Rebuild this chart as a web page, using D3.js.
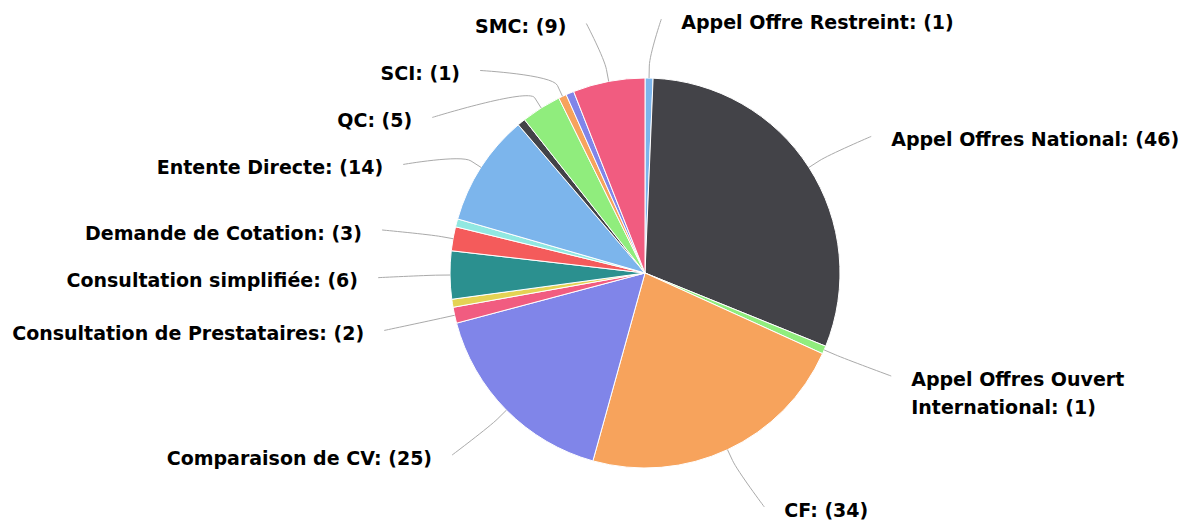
<!DOCTYPE html>
<html>
<head>
<meta charset="utf-8">
<script src="https://cdn.jsdelivr.net/npm/d3@7"></script>
<style>
  body { margin: 0; background: #fff; }
  .lbl { font-family: "DejaVu Sans", sans-serif; font-weight: bold; font-size: 19px; fill: #000; }
</style>
</head>
<body>
<div id="chart"></div>
<script>
// slices, clockwise from 12 o'clock
var names = [
  "Appel Offre Restreint", "Appel Offres National", "Appel Offres Ouvert International",
  "CF", "Comparaison de CV", "Consultation de Prestataires", "Consultation restreinte",
  "Consultation simplifiée", "Demande de Cotation", "Demande de Propositions",
  "Entente Directe", "Gré à Gré", "QC", "SCI", "SFQC", "SMC"
];
var values = [1, 46, 1, 34, 25, 2, 1, 6, 3, 1, 14, 1, 5, 1, 1, 9];
// labels dropped by the overlap check in the original
var hiddenLabels = ["Consultation restreinte", "Demande de Propositions", "Gré à Gré", "SFQC"];
var colors = ["#7cb5ec", "#434348", "#90ed7d", "#f7a35c", "#8085e9",
              "#f15c80", "#e4d354", "#2b908f", "#f45b5b", "#91e8e1"];

var width = 1200, height = 525;
var cx = 645, cy = 273, radius = 195;
var labelDistance = 61, labelShift = 5, padding = 31;
var slot = 47, topLimit = 22, bottomLimit = 510;

var svg = d3.select("#chart").append("svg")
  .attr("width", width)
  .attr("height", height);

var data = names.map(function (n, i) { return { name: n, value: values[i], index: i }; });

var pie = d3.pie().sort(null).value(function (d) { return d.value; });
var arc = d3.arc().innerRadius(0).outerRadius(radius);
var color = d3.scaleOrdinal().domain(d3.range(names.length)).range(colors);

var arcs = pie(data);

var g = svg.append("g").attr("transform", "translate(" + cx + "," + cy + ")");
g.selectAll("path")
  .data(arcs)
  .enter()
  .append("path")
  .attr("d", arc)
  .attr("fill", function (d) { return color(d.data.index); })
  .attr("stroke", "#ffffff")
  .attr("stroke-width", 1)
  .attr("stroke-linejoin", "round");

// label positions, Highcharts-like
var R = radius + labelDistance;
var cyL = cy + labelShift;
var labels = arcs.filter(function (d) { return hiddenLabels.indexOf(d.data.name) < 0; })
  .map(function (d) {
    var mid = (d.startAngle + d.endAngle) / 2;
    return {
      d: d,
      mid: mid,
      left: mid > Math.PI,
      natural: cyL - R * Math.cos(mid)
    };
  });

function getX(y, left) {
  var a = Math.asin(Math.max(-1, Math.min(1, (y - cyL) / R)));
  return cx + (left ? -1 : 1) * (Math.cos(a) * R + padding);
}

[true, false].forEach(function (side) {
  var items = labels.filter(function (l) { return l.left === side; })
    .sort(function (a, b) { return a.natural - b.natural; });
  var prev = -Infinity;
  items.forEach(function (l) {
    l.y = Math.max(l.natural, prev + slot, topLimit);
    prev = l.y;
  });
  var next = Infinity;
  for (var i = items.length - 1; i >= 0; i--) {
    items[i].y = Math.min(items[i].y, next - slot, bottomLimit);
    next = items[i].y;
  }
  items.forEach(function (l) {
    var yx = (l.y <= topLimit + 0.5 || l.y >= bottomLimit - 0.5) ? l.natural : l.y;
    l.x = getX(yx, l.left);
  });
});

// connectors
var conn = svg.append("g");
labels.forEach(function (l) {
  var s = Math.sin(l.mid), c = Math.cos(l.mid);
  var tx = cx + radius * s, ty = cy - radius * c;
  var bx = cx + (radius + 12) * s, by = cy - (radius + 12) * c;
  var ex = l.x + (l.left ? 20 : -20), ey = l.y - 3;
  var p = d3.path();
  p.moveTo(ex, ey);
  p.bezierCurveTo(ex, ey, 2 * bx - tx, 2 * by - ty, bx, by);
  p.lineTo(tx, ty);
  conn.append("path")
    .attr("d", p.toString())
    .attr("fill", "none")
    .attr("stroke", "#aaaaaa")
    .attr("stroke-width", 1);
});

// label text
var lineHeight = 28;
labels.forEach(function (l) {
  var str = l.d.data.name + ": (" + l.d.data.value + ")";
  var t = svg.append("text")
    .attr("class", "lbl")
    .attr("x", l.x)
    .attr("y", l.y)
    .attr("dy", "0.35em")
    .attr("text-anchor", l.left ? "end" : "start")
    .text(str);
  var avail = l.left ? l.x - 8 : width - 8 - l.x;
  if (t.node().getComputedTextLength() > avail) {
    // wrap words
    var words = str.split(" ");
    t.text(null);
    var lines = [], line = [];
    var probe = t.append("tspan");
    words.forEach(function (w) {
      line.push(w);
      probe.text(line.join(" "));
      if (probe.node().getComputedTextLength() > avail && line.length > 1) {
        line.pop();
        lines.push(line.join(" "));
        line = [w];
      }
    });
    lines.push(line.join(" "));
    probe.remove();
    lines.forEach(function (ln, k) {
      t.append("tspan")
        .attr("x", l.x)
        .attr("y", l.y + k * lineHeight)
        .attr("dy", "0.35em")
        .text(ln);
    });
  }
});
</script>
</body>
</html>
